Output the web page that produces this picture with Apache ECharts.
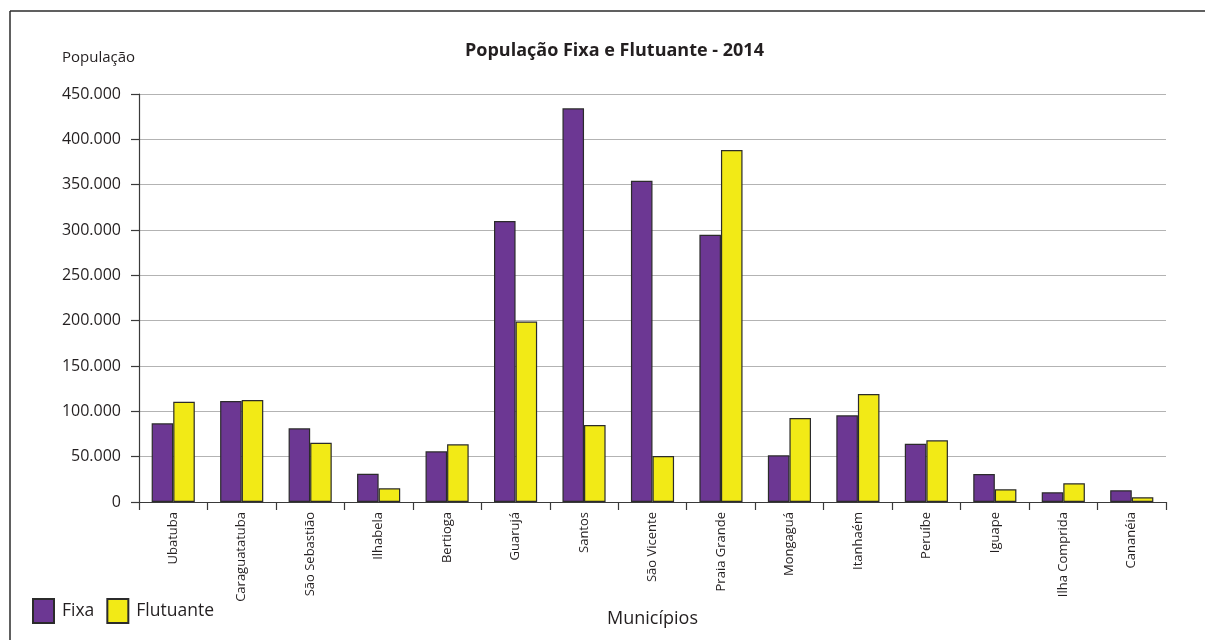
<!DOCTYPE html>
<html>
<head>
<meta charset="utf-8">
<script src="https://cdn.jsdelivr.net/npm/echarts@6/dist/echarts.min.js"></script>
<style>
  html, body { margin: 0; padding: 0; background: #fff; }
  #chart { width: 1205px; height: 640px; }
</style>
</head>
<body>
<div id="chart"></div>
<script>
// Municípios do litoral paulista
const municipios = ['Ubatuba', 'Caraguatatuba', 'São Sebastião', 'Ilhabela', 'Bertioga', 'Guarujá', 'Santos',
  'São Vicente', 'Praia Grande', 'Mongaguá', 'Itanhaém', 'Peruíbe', 'Iguape', 'Ilha Comprida', 'Cananéia'];

// População fixa e flutuante (2014)
const fixa = [86800, 111400, 81300, 31200, 55900, 310000, 434200, 354400, 294800, 51500, 95600, 64300, 30900, 10700, 12900];
const flutuante = [110600, 112500, 65400, 15100, 63600, 199000, 85000, 50700, 388200, 92600, 119100, 68000, 14000, 20600, 5200];

const FONT = '"Open Sans", sans-serif';
const chart = echarts.init(document.getElementById('chart'));

const fmt = v => String(v).replace(/\B(?=(\d{3})+(?!\d))/g, '.');

chart.setOption({
  animation: false,
  textStyle: { fontFamily: FONT, color: '#231f20' },
  title: [
    {
      text: 'População Fixa e Flutuante - 2014',
      left: 460, top: 37,
      textStyle: { fontFamily: FONT, fontSize: 18, fontWeight: 'bold', color: '#231f20' }
    },
    {
      text: 'População',
      left: 57, top: 45,
      textStyle: { fontFamily: FONT, fontSize: 15, fontWeight: 'normal', color: '#231f20' }
    }
  ],
  legend: {
    left: 32, top: 598, padding: 0,
    itemWidth: 21, itemHeight: 24, itemGap: 12,
    icon: 'rect',
    textStyle: { fontFamily: FONT, fontSize: 17.5, color: '#231f20', padding: [0, 0, 0, 3] },
    data: ['Fixa', 'Flutuante']
  },
  grid: { left: 139, right: 39, top: 94, bottom: 138, containLabel: false },
  xAxis: {
    type: 'category',
    data: municipios,
    name: 'Municípios',
    nameLocation: 'middle',
    nameGap: 108,
    nameTextStyle: { fontFamily: FONT, fontSize: 18, color: '#231f20' },
    axisLine: { lineStyle: { color: '#3a3a3a', width: 1.2 } },
    axisTick: { show: true, length: 8, lineStyle: { color: '#3a3a3a', width: 1.2 } },
    axisLabel: { rotate: 90, fontFamily: FONT, fontSize: 13, color: '#231f20', margin: 10 }
  },
  yAxis: {
    type: 'value',
    min: 0, max: 450000, interval: 50000,
    axisLine: { show: true, lineStyle: { color: '#3a3a3a', width: 1.2 } },
    axisTick: { show: true, length: 8, lineStyle: { color: '#3a3a3a', width: 1.2 } },
    axisLabel: { fontFamily: FONT, fontSize: 16, color: '#231f20', margin: 18, formatter: fmt },
    splitLine: { lineStyle: { color: '#b3b3b3', width: 1.2 } }
  },
  series: [
    {
      name: 'Fixa', type: 'bar', data: fixa,
      barGap: '0%', barCategoryGap: '37%',
      itemStyle: { color: '#6c3793', borderColor: '#2b2b2b', borderWidth: 1.2 }
    },
    {
      name: 'Flutuante', type: 'bar', data: flutuante,
      barGap: '0%', barCategoryGap: '37%',
      itemStyle: { color: '#f2ea16', borderColor: '#2b2b2b', borderWidth: 1.2 }
    }
  ],
  graphic: [
    { type: 'line', shape: { x1: 10, y1: 11, x2: 1205, y2: 11 }, style: { stroke: '#2b2b2b', lineWidth: 1.5 } },
    { type: 'line', shape: { x1: 10, y1: 11, x2: 10, y2: 640 }, style: { stroke: '#2b2b2b', lineWidth: 1.5 } }
  ]
});
</script>
</body>
</html>
